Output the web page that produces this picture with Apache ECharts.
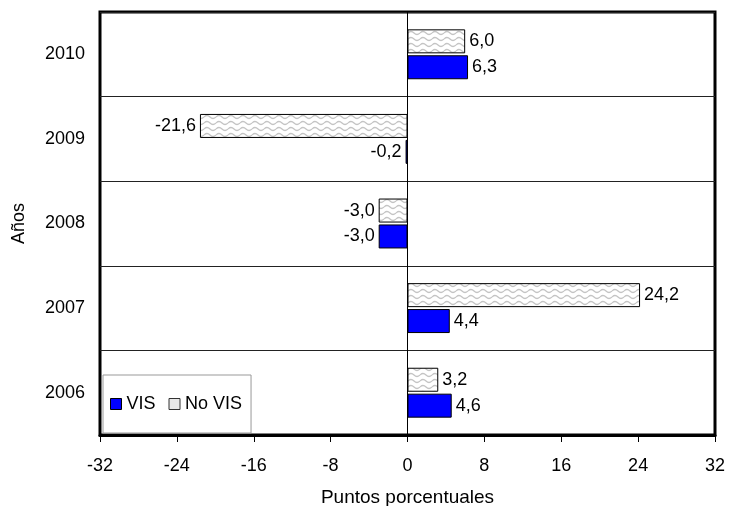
<!DOCTYPE html>
<html>
<head>
<meta charset="utf-8">
<script src="https://cdn.jsdelivr.net/npm/echarts@6/dist/echarts.min.js"></script>
<style>
  html, body { margin: 0; padding: 0; background: #fff; }
  #chart { width: 729px; height: 506px; }
</style>
</head>
<body>
<div id="chart"></div>
<script>
var years = ['2006', '2007', '2008', '2009', '2010'];
var visValues = [4.6, 4.4, -3.0, -0.2, 6.3];
var noVisValues = [3.2, 24.2, -3.0, -21.6, 6.0];
var xTicks = [-32, -24, -16, -8, 0, 8, 16, 24, 32];

// wavy grey pattern for "No VIS"
function wavePattern() {
  var c = document.createElement('canvas');
  c.width = 12; c.height = 6;
  var ctx = c.getContext('2d');
  ctx.fillStyle = '#fff';
  ctx.fillRect(0, 0, 12, 6);
  ctx.strokeStyle = '#c4c4c4';
  ctx.lineWidth = 1.2;
  ctx.beginPath();
  ctx.moveTo(0, 3);
  ctx.quadraticCurveTo(3, 0, 6, 3);
  ctx.quadraticCurveTo(9, 6, 12, 3);
  ctx.stroke();
  return c;
}

function fmt(v) { return v.toFixed(1).replace('.', ','); }

function toItems(arr) {
  return arr.map(function (v) {
    return { value: v, label: { position: v < 0 ? 'left' : 'right' } };
  });
}

var font = 'Liberation Sans, Arial, sans-serif';
var fs = 18;
var chart = echarts.init(document.getElementById('chart'));

chart.setOption({
  animation: false,
  textStyle: { fontFamily: font },
  grid: {
    left: 100, right: 14, top: 12, bottom: 71,
    outerBoundsMode: 'none',
    containLabel: false,
    show: true, borderColor: '#000', borderWidth: 3
  },
  legend: {
    left: 103, top: 375,
    orient: 'horizontal',
    padding: [20, 9, 20, 7],
    itemGap: 13,
    itemWidth: 11, itemHeight: 11,
    backgroundColor: '#fff',
    borderColor: '#999', borderWidth: 1,
    textStyle: { fontSize: fs, color: '#000', fontFamily: font },
    data: [
      { name: 'VIS', icon: 'rect', itemStyle: { color: '#0000ff', borderColor: '#000', borderWidth: 1 } },
      { name: 'No VIS', icon: 'rect', itemStyle: { color: '#e8e8e8', borderColor: '#333', borderWidth: 1 } }
    ]
  },
  xAxis: {
    type: 'value',
    min: -32, max: 32, interval: 8,
    name: 'Puntos porcentuales',
    nameLocation: 'middle',
    nameGap: 53,
    nameTextStyle: { fontSize: 19, color: '#000' },
    axisLine: { show: true, onZero: false, lineStyle: { color: '#000', width: 3 } },
    axisTick: { show: true, length: 7, lineStyle: { color: '#000' } },
    axisLabel: {
      fontSize: fs, color: '#000', margin: 22,
      formatter: function (v) { return xTicks.indexOf(v) >= 0 ? String(v) : ''; }
    },
    splitLine: { show: false }
  },
  yAxis: {
    type: 'category',
    data: years,
    name: 'Años',
    nameLocation: 'middle',
    nameGap: 72,
    nameRotate: 90,
    nameTextStyle: { fontSize: fs, color: '#000' },
    axisLine: { show: true, onZero: true, lineStyle: { color: '#000', width: 1 } },
    axisTick: { show: false },
    axisLabel: { fontSize: fs, color: '#000', margin: 15 },
    splitLine: { show: true, lineStyle: { color: '#222', width: 1 } }
  },
  series: [
    {
      name: 'No VIS',
      type: 'bar',
      data: toItems(noVisValues),
      barWidth: 24,
      barGap: '8%',
      itemStyle: {
        color: { image: wavePattern(), repeat: 'repeat' },
        borderColor: '#000', borderWidth: 1
      },
      label: {
        show: true, fontSize: fs, color: '#000', distance: 4,
        formatter: function (p) { return fmt(p.value); }
      }
    },
    {
      name: 'VIS',
      type: 'bar',
      data: toItems(visValues),
      barWidth: 24,
      barGap: '8%',
      itemStyle: { color: '#0000ff', borderColor: '#000', borderWidth: 1 },
      label: {
        show: true, fontSize: fs, color: '#000', distance: 4,
        formatter: function (p) { return fmt(p.value); }
      }
    }
  ]
});
</script>
</body>
</html>
